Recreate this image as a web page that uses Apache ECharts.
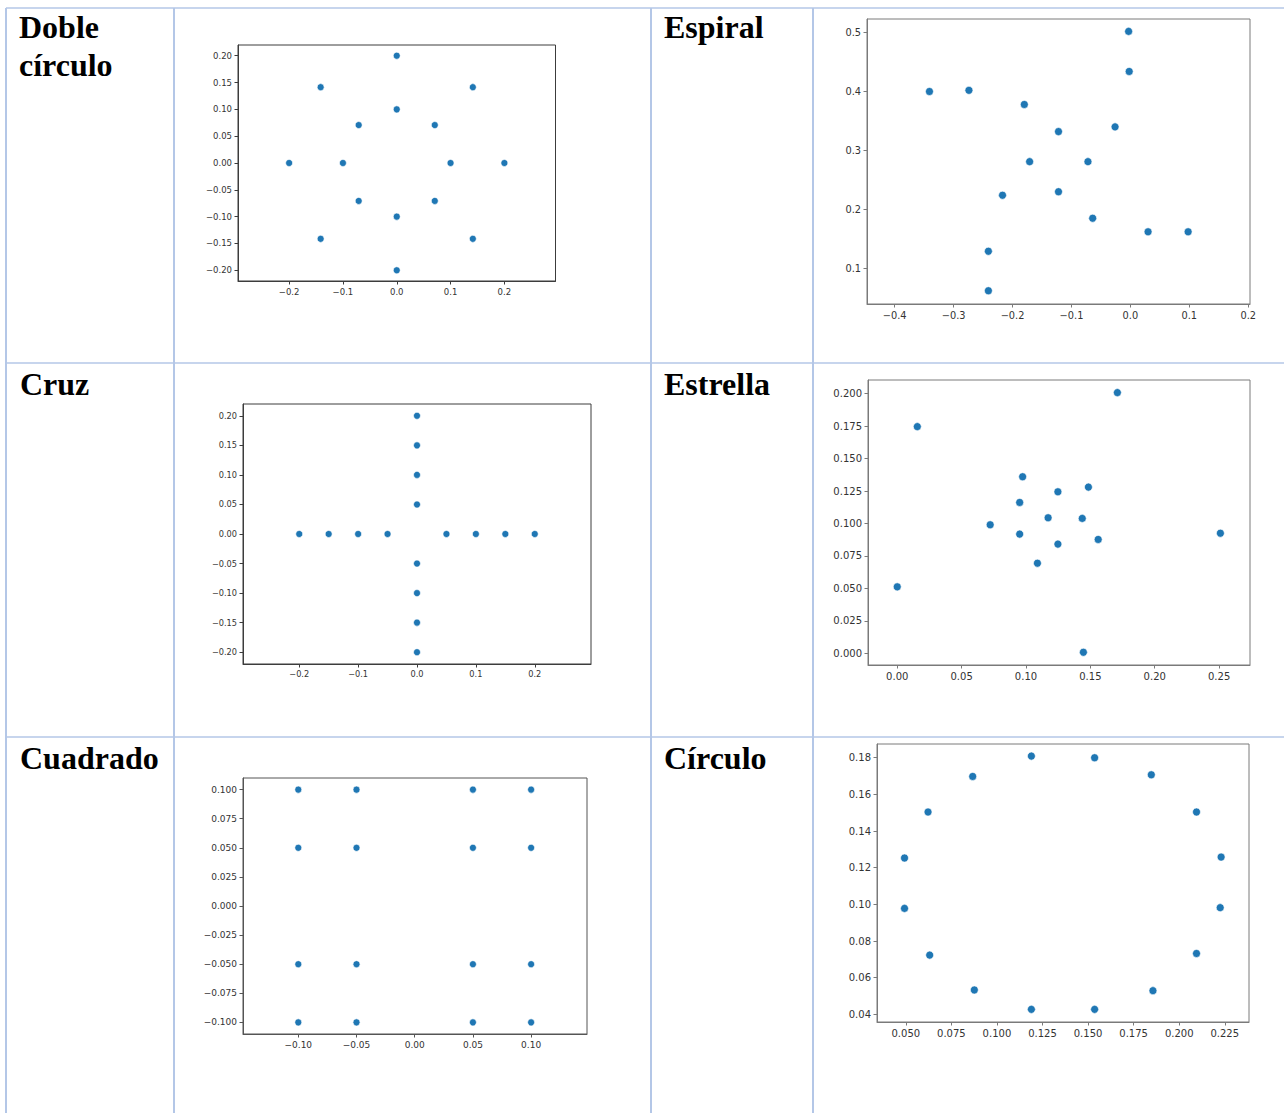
<!DOCTYPE html>
<html><head><meta charset="utf-8">
<script src="https://cdn.jsdelivr.net/npm/echarts@6.0.0/dist/echarts.min.js"></script>
<style>html,body{margin:0;padding:0;background:#fff}#c{width:1284px;height:1113px}</style>
</head><body><div id="c"></div><script>
// ---------- DATA ----------
const titles = ['Doble\ncírculo', 'Espiral', 'Cruz', 'Estrella', 'Cuadrado', 'Círculo'];

const dobleX = [0.2, 0.1414, 0, -0.1414, -0.2, -0.1414, 0, 0.1414, 0.1, 0.0707, 0, -0.0707, -0.1, -0.0707, 0, 0.0707];
const dobleY = [0, 0.1414, 0.2, 0.1414, 0, -0.1414, -0.2, -0.1414, 0, 0.0707, 0.1, 0.0707, 0, -0.0707, -0.1, -0.0707];
const dobleXTicks = [-0.2, -0.1, 0, 0.1, 0.2];
const dobleYTicks = [-0.2, -0.15, -0.1, -0.05, 0, 0.05, 0.1, 0.15, 0.2];

const espiralX = [-0.003, -0.002, -0.341, -0.274, -0.180, -0.122, -0.026, -0.171, -0.072, -0.217, -0.122, -0.064, 0.030, 0.098, -0.241, -0.241];
const espiralY = [0.502, 0.434, 0.400, 0.402, 0.378, 0.332, 0.340, 0.281, 0.281, 0.224, 0.230, 0.185, 0.162, 0.162, 0.129, 0.062];
const espiralXTicks = [-0.4, -0.3, -0.2, -0.1, 0, 0.1, 0.2];
const espiralYTicks = [0.1, 0.2, 0.3, 0.4, 0.5];

const cruzX = [0, 0, 0, 0, 0, 0, 0, 0, -0.2, -0.15, -0.1, -0.05, 0.05, 0.1, 0.15, 0.2];
const cruzY = [0.2, 0.15, 0.1, 0.05, -0.05, -0.1, -0.15, -0.2, 0, 0, 0, 0, 0, 0, 0, 0];
const cruzXTicks = [-0.2, -0.1, 0, 0.1, 0.2];
const cruzYTicks = [-0.2, -0.15, -0.1, -0.05, 0, 0.05, 0.1, 0.15, 0.2];

const estrellaX = [0.171, 0.0156, 0.0974, 0.1485, 0.1248, 0.0951, 0.1172, 0.1437, 0.0722, 0.0951, 0.1248, 0.1561, 0.251, 0.1089, 0.0, 0.1446];
const estrellaY = [0.2008, 0.1746, 0.136, 0.128, 0.1244, 0.1162, 0.1044, 0.1039, 0.099, 0.0918, 0.0841, 0.0877, 0.0925, 0.0694, 0.0512, 0.0008];
const estrellaXTicks = [0, 0.05, 0.1, 0.15, 0.2, 0.25];
const estrellaYTicks = [0, 0.025, 0.05, 0.075, 0.1, 0.125, 0.15, 0.175, 0.2];

const cuadradoX = [-0.1, -0.05, 0.05, 0.1, -0.1, -0.05, 0.05, 0.1, -0.1, -0.05, 0.05, 0.1, -0.1, -0.05, 0.05, 0.1];
const cuadradoY = [0.1, 0.1, 0.1, 0.1, 0.05, 0.05, 0.05, 0.05, -0.05, -0.05, -0.05, -0.05, -0.1, -0.1, -0.1, -0.1];
const cuadradoXTicks = [-0.1, -0.05, 0, 0.05, 0.1];
const cuadradoYTicks = [-0.1, -0.075, -0.05, -0.025, 0, 0.025, 0.05, 0.075, 0.1];

const circuloX = [0.1189, 0.1536, 0.0867, 0.1847, 0.0622, 0.2095, 0.0493, 0.2230, 0.0493, 0.2225, 0.0631, 0.2095, 0.0876, 0.1856, 0.1189, 0.1536];
const circuloY = [0.1809, 0.1800, 0.1698, 0.1707, 0.1504, 0.1504, 0.1253, 0.1258, 0.0978, 0.0982, 0.0723, 0.0732, 0.0533, 0.0529, 0.0427, 0.0427];
const circuloXTicks = [0.05, 0.075, 0.1, 0.125, 0.15, 0.175, 0.2, 0.225];
const circuloYTicks = [0.04, 0.06, 0.08, 0.1, 0.12, 0.14, 0.16, 0.18];

// ---------- LAYOUT / STYLE ----------
const panels = [
  {x: dobleX, y: dobleY, xt: dobleXTicks, yt: dobleYTicks, xd: 1, yd: 2,
   grid: {left: 238, top: 45, width: 317.5, height: 236}, xr: [-0.295, 0.295], yr: [-0.22, 0.22], fs: 8.5, sym: 7, ax: '#3c3c3c',
   tl: 19, tt: 8},
  {x: espiralX, y: espiralY, xt: espiralXTicks, yt: espiralYTicks, xd: 1, yd: 1,
   grid: {left: 867, top: 19, width: 383, height: 285}, xr: [-0.447, 0.203], yr: [0.0395, 0.523], fs: 9.8, sym: 8, ax: '#7a7a7a',
   tl: 664, tt: 8},
  {x: cruzX, y: cruzY, xt: cruzXTicks, yt: cruzYTicks, xd: 1, yd: 2,
   grid: {left: 243, top: 404, width: 348, height: 260}, xr: [-0.2955, 0.2955], yr: [-0.22, 0.22], fs: 8.2, sym: 7, ax: '#3c3c3c',
   tl: 20, tt: 365},
  {x: estrellaX, y: estrellaY, xt: estrellaXTicks, yt: estrellaYTicks, xd: 2, yd: 3,
   grid: {left: 868, top: 380, width: 382, height: 285}, xr: [-0.0227, 0.274], yr: [-0.009, 0.2105], fs: 10, sym: 8, ax: '#7a7a7a',
   tl: 664, tt: 365},
  {x: cuadradoX, y: cuadradoY, xt: cuadradoXTicks, yt: cuadradoYTicks, xd: 2, yd: 3,
   grid: {left: 243, top: 778, width: 344, height: 256}, xr: [-0.1475, 0.148], yr: [-0.11, 0.11], fs: 9, sym: 7, ax: '#555555',
   tl: 20, tt: 739},
  {x: circuloX, y: circuloY, xt: circuloXTicks, yt: circuloYTicks, xd: 3, yd: 2,
   grid: {left: 877, top: 744, width: 372, height: 278}, xr: [0.0342, 0.2383], yr: [0.0358, 0.1875], fs: 10, sym: 8, ax: '#7a7a7a',
   tl: 664, tt: 739}
];

const borderColor = '#b4c7e7';
const hLines = [[6, 8, 1284, 8], [6, 363, 1284, 363], [6, 737, 1284, 737]];
const vLines = [[6, 8, 6, 1113], [174, 8, 174, 1113], [651, 8, 651, 1113], [813, 8, 813, 1113]];

// ---------- BUILD ----------
const fmt = (d) => (v) => Number(v).toFixed(d).replace('-', '\u2212').replace(/^\u22120(\.0+)?$/, (m) => m.slice(1));
const tickFont = 'DejaVu Sans';

const option = {
  animation: false,
  backgroundColor: '#ffffff',
  title: panels.map((p, i) => ({
    text: titles[i], left: p.tl, top: p.tt, padding: 0,
    textStyle: {fontFamily: 'Liberation Serif', fontWeight: 'bold', fontSize: 32, lineHeight: 38, color: '#000'}
  })),
  grid: panels.map(p => Object.assign({show: true, borderColor: p.ax, borderWidth: 1, backgroundColor: 'transparent', containLabel: false}, p.grid)),
  xAxis: panels.map((p, i) => ({
    type: 'value', gridIndex: i, min: p.xr[0], max: p.xr[1],
    axisLine: {show: true, onZero: false, lineStyle: {color: p.ax, width: 1}},
    axisTick: {show: true, inside: false, length: 3.5, lineStyle: {color: p.ax}, customValues: p.xt},
    axisLabel: {show: true, customValues: p.xt, formatter: fmt(p.xd), margin: 6, color: '#333',
                fontFamily: tickFont, fontSize: p.fs},
    splitLine: {show: false}
  })),
  yAxis: panels.map((p, i) => ({
    type: 'value', gridIndex: i, min: p.yr[0], max: p.yr[1],
    axisLine: {show: true, onZero: false, lineStyle: {color: p.ax, width: 1}},
    axisTick: {show: true, inside: false, length: 3.5, lineStyle: {color: p.ax}, customValues: p.yt},
    axisLabel: {show: true, customValues: p.yt, formatter: fmt(p.yd), margin: 6, color: '#333',
                fontFamily: tickFont, fontSize: p.fs},
    splitLine: {show: false}
  })),
  series: panels.map((p, i) => ({
    type: 'scatter', xAxisIndex: i, yAxisIndex: i, symbol: 'circle', symbolSize: p.sym,
    itemStyle: {color: '#1f77b4', borderColor: '#ffffff', borderWidth: 0.6, opacity: 1},
    data: p.x.map((v, k) => [v, p.y[k]])
  })),
  graphic: hLines.concat(vLines).map(l => ({
    type: 'line', silent: true, z: 100,
    shape: {x1: l[0], y1: l[1], x2: l[2], y2: l[3]},
    style: {stroke: borderColor, lineWidth: l[0] === l[2] ? 2 : 1.5}
  }))
};

const chart = echarts.init(document.getElementById('c'), null, {renderer: 'svg', width: 1284, height: 1113});
chart.setOption(option);
</script></body></html>
